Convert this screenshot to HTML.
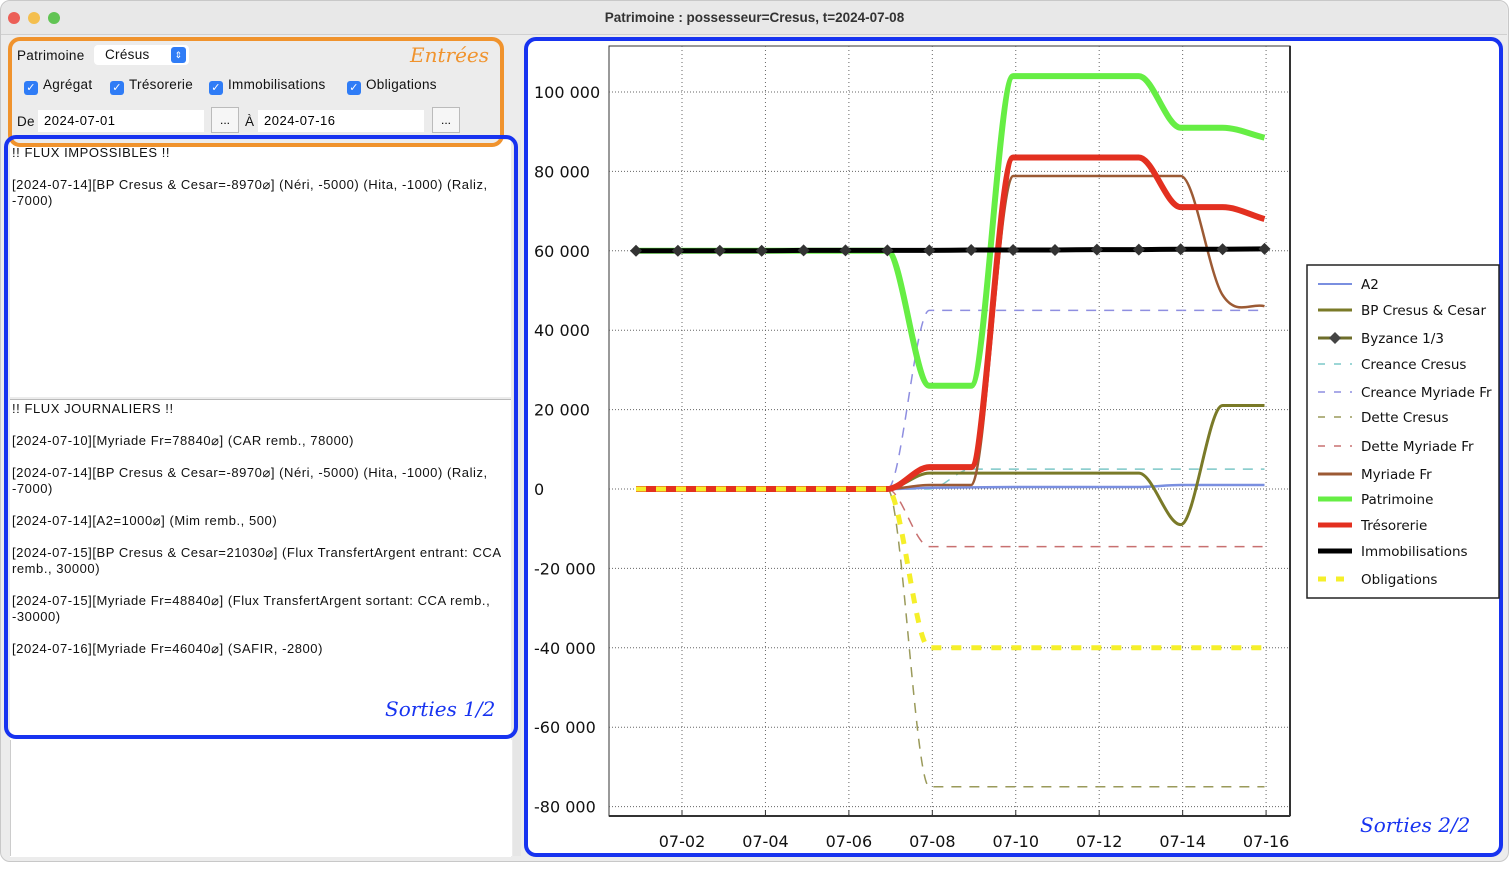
<!DOCTYPE html>
<html><head><meta charset="utf-8"><style>
body{margin:0;width:1509px;height:870px;background:#fff;font-family:"Liberation Sans",sans-serif;overflow:hidden;position:relative}
.abs{position:absolute}
.t{font-size:13.5px;color:#111;white-space:nowrap;letter-spacing:0.3px}
.cb{display:inline-block;width:14px;height:14px;background:#2f7cf6;border-radius:3px;color:#fff;font-size:11px;text-align:center;line-height:14px;vertical-align:-2px;margin-right:5px}
.field{background:#fff;height:22px;font-size:13px;line-height:22px;padding-left:6px;letter-spacing:0.5px}
.btn{background:#f6f6f6;border:1px solid #bbb;height:24px;width:26px;text-align:center;font-size:12px;line-height:24px}
.log{font-size:13px;line-height:16px;color:#111;letter-spacing:0.55px}
.hand{font-family:"DejaVu Serif",serif;font-style:italic}
</style></head><body>
<div class="abs" style="left:0;top:0;width:1507px;height:860px;background:#ececec;border:1px solid #c8c8c8;border-radius:10px"></div>
<div class="abs" style="left:1px;top:1px;width:1506px;height:33px;background:#e8e8e8;border-bottom:1px solid #d0d0d0;border-radius:10px 10px 0 0"></div>
<div class="abs" style="left:8px;top:12px;width:12px;height:12px;border-radius:6px;background:#ec5f57"></div>
<div class="abs" style="left:28px;top:12px;width:12px;height:12px;border-radius:6px;background:#f4bf4f"></div>
<div class="abs" style="left:48px;top:12px;width:12px;height:12px;border-radius:6px;background:#61c454"></div>
<div class="abs t" style="left:0;width:1509px;top:10px;text-align:center;font-weight:bold;color:#333;letter-spacing:0">Patrimoine : possesseur=Cresus, t=2024-07-08</div>

<div class="abs" style="left:10px;top:140px;width:501px;height:257px;background:#fff"></div>
<div class="abs" style="left:10px;top:399px;width:501px;height:457px;background:#fff;border-top:1px solid #bbb"></div>
<div class="abs" style="left:10px;top:740px;width:501px;height:116px;background:#fff;border-left:1px solid #ccc"></div>
<div class="abs" style="left:513px;top:140px;width:8px;height:716px;background:#e6e6e6"></div>

<div class="abs" style="left:8px;top:37px;width:488px;height:102px;border:4px solid #f0932d;border-radius:12px;background:#ececec"></div>
<div class="abs t" style="left:17px;top:48px">Patrimoine</div>
<div class="abs t" style="left:94px;top:45px;width:95px;height:20px;background:#fff;border-radius:4px;line-height:20px;padding-left:11px;box-sizing:border-box">Crésus<span style="position:absolute;right:3px;top:2px;width:15px;height:16px;background:#2f7cf6;border-radius:3px;color:#fff;font-size:9px;text-align:center;line-height:16px">⇕</span></div>
<div class="abs hand" style="left:410px;top:43px;font-size:20px;color:#f0932d">Entrées</div>
<div class="abs t" style="left:24px;top:77px"><span class="cb">✓</span>Agrégat</div>
<div class="abs t" style="left:110px;top:77px"><span class="cb">✓</span>Trésorerie</div>
<div class="abs t" style="left:209px;top:77px"><span class="cb">✓</span>Immobilisations</div>
<div class="abs t" style="left:347px;top:77px"><span class="cb">✓</span>Obligations</div>
<div class="abs t" style="left:17px;top:114px">De</div>
<div class="abs field" style="left:38px;top:110px;width:160px">2024-07-01</div>
<div class="abs btn" style="left:211px;top:107px">...</div>
<div class="abs t" style="left:245px;top:114px">À</div>
<div class="abs field" style="left:258px;top:110px;width:160px">2024-07-16</div>
<div class="abs btn" style="left:432px;top:107px">...</div>

<div class="abs" style="left:4px;top:135px;width:506px;height:596px;border:4px solid #1733f0;border-radius:12px"></div>
<div class="abs log" style="left:12px;top:145px;width:490px">!! FLUX IMPOSSIBLES !!<br><br>[2024-07-14][BP Cresus &amp; Cesar=-8970⌀] (Néri, -5000) (Hita, -1000) (Raliz, -7000)</div>
<div class="abs log" style="left:12px;top:401px;width:495px">!! FLUX JOURNALIERS !!<br><br>[2024-07-10][Myriade Fr=78840⌀] (CAR remb., 78000)<br><br>[2024-07-14][BP Cresus &amp; Cesar=-8970⌀] (Néri, -5000) (Hita, -1000) (Raliz, -7000)<br><br>[2024-07-14][A2=1000⌀] (Mim remb., 500)<br><br>[2024-07-15][BP Cresus &amp; Cesar=21030⌀] (Flux TransfertArgent entrant: CCA remb., 30000)<br><br>[2024-07-15][Myriade Fr=48840⌀] (Flux TransfertArgent sortant: CCA remb., -30000)<br><br>[2024-07-16][Myriade Fr=46040⌀] (SAFIR, -2800)</div>
<div class="abs hand" style="left:385px;top:697px;font-size:20px;color:#1733f0">Sorties 1/2</div>

<div class="abs" style="left:524px;top:37px;width:971px;height:812px;border:4px solid #1733f0;border-radius:12px;background:#fff"></div>
<svg class="abs" style="left:0;top:0" width="1509" height="870" id="chart"></svg>
<div class="abs hand" style="left:1360px;top:813px;font-size:20px;color:#1733f0">Sorties 2/2</div>

<script>
const days=[0,1,2,3,4,5,6,7,8,9,10,11,12,13,14,15];
const xTickDays=[1,3,5,7,9,11,13,15];
const xTickLabels=["07-02","07-04","07-06","07-08","07-10","07-12","07-14","07-16"];
const yTicks=[100000,80000,60000,40000,20000,0,-20000,-40000,-60000,-80000];
const yTickLabels=["100 000","80 000","60 000","40 000","20 000","0","-20 000","-40 000","-60 000","-80 000"];
const serA2=[0,0,0,0,0,0,0,300,400,500,500,500,500,1000,1000,1000];
const serBP=[0,0,0,0,0,0,0,4000,4000,4000,4000,4000,4000,-8970,21030,21030];
const serByz=[60000,60000,60000,60000,60100,60100,60100,60100,60200,60200,60200,60300,60300,60400,60400,60500];
const serCreC=[0,0,0,0,0,0,0,0,5000,5000,5000,5000,5000,5000,5000,5000];
const serCreM=[0,0,0,0,0,0,0,45000,45000,45000,45000,45000,45000,45000,45000,45000];
const serDetC=[0,0,0,0,0,0,0,-75000,-75000,-75000,-75000,-75000,-75000,-75000,-75000,-75000];
const serDetM=[0,0,0,0,0,0,0,-14500,-14500,-14500,-14500,-14500,-14500,-14500,-14500,-14500];
const serMyr=[0,0,0,0,0,0,0,1000,1000,78840,78840,78840,78840,78840,48840,46040];
const serPat=[60000,60000,60000,60000,60000,60000,60000,26000,26000,104000,104000,104000,104000,91000,91000,88500];
const serTre=[0,0,0,0,0,0,0,5500,5500,83500,83500,83500,83500,71000,71000,68000];
const serImm=[60000,60000,60000,60000,60100,60100,60100,60100,60200,60200,60200,60300,60300,60400,60400,60500];
const serObl=[0,0,0,0,0,0,0,-40000,-40000,-40000,-40000,-40000,-40000,-40000,-40000,-40000];

const NS="http://www.w3.org/2000/svg",svg=document.getElementById('chart');
const PL=609,PR=1290,PT=46,PB=816;
const x=d=>636+d*41.9;
const y=v=>489-v*(397/100000);
function mk(t,a,p){const e=document.createElementNS(NS,t);for(const k in a)e.setAttribute(k,a[k]);(p||svg).appendChild(e);return e;}
const bg=mk('rect',{x:PL,y:PT,width:PR-PL,height:PB-PT,fill:'#fff',stroke:'#333','stroke-width':1});

yTicks.forEach((v,i)=>{
 const g=mk('line',{x1:PL,x2:PR,y1:y(v),y2:y(v),stroke:'#666','stroke-dasharray':'1 2','stroke-width':1});
 
 const t=mk('text',{x:534,y:y(v)+6,'font-size':16,fill:'#111','font-family':'DejaVu Sans, sans-serif'});
 t.textContent=yTickLabels[i];
 
});
xTickDays.forEach((d,i)=>{
 const X=682+(d-1)*41.72;
 const g=mk('line',{x1:X,x2:X,y1:PT,y2:PB,stroke:'#666','stroke-dasharray':'1 3','stroke-width':1});
 
 const tk=mk('line',{x1:X,x2:X,y1:PB-6,y2:PB,stroke:'#333'});
 
 const t=mk('text',{x:X,y:847,'font-size':16,fill:'#111','text-anchor':'middle','font-family':'DejaVu Sans, sans-serif'});
 t.textContent=xTickLabels[i];
 
});
mk('line',{x1:PL,x2:PR,y1:PB,y2:PB,stroke:'#333','stroke-width':2});
mk('line',{x1:PR,x2:PR,y1:PT,y2:PB,stroke:'#333','stroke-width':2});
function pathD(vals){
 const n=vals.length,px=days.slice(0,n).map(x),py=vals.map(y);
 const dl=[],m=[];
 for(let i=0;i<n-1;i++)dl.push((py[i+1]-py[i])/(px[i+1]-px[i]));
 for(let i=0;i<n;i++){if(i==0)m.push(dl[0]);else if(i==n-1)m.push(dl[n-2]);else m.push(dl[i-1]*dl[i]<=0?0:(dl[i-1]+dl[i])/2);}
 for(let i=0;i<n-1;i++){if(dl[i]==0){m[i]=0;m[i+1]=0;}}
 let d='M'+px[0]+','+py[0];
 for(let i=0;i<n-1;i++){const h=(px[i+1]-px[i])/3;d+=' C'+(px[i]+h)+','+(py[i]+m[i]*h)+' '+(px[i+1]-h)+','+(py[i+1]-m[i+1]*h)+' '+px[i+1]+','+py[i+1];}
 return d;
}
const series=[
 ['series-creance-myriade',serCreM,'#8e8ee0',1.5,'10 8'],
 ['series-creance-cresus',serCreC,'#7cc8c8',1.5,'10 8'],
 ['series-dette-cresus',serDetC,'#9a9a5a',1.5,'10 8'],
 ['series-dette-myriade',serDetM,'#c87070',1.5,'10 8'],
 ['series-a2',serA2,'#7a8fe0',2.5,''],
 ['series-bp-cresus',serBP,'#7a7a28',3,''],
 ['series-myriade-fr',serMyr,'#9c5a34',2.5,''],
 ['series-patrimoine',serPat,'#66ee44',6,''],
 ['series-tresorerie',serTre,'#e33020',6,''],
 ['series-obligations',serObl,'#f5ef2a',5,'10 10'],
 ['series-byzance',serByz,'#6d6d2a',2,''],
 ['series-immobilisations',serImm,'#000',5,'']
];
series.forEach(s=>{
 const p=mk('path',{d:pathD(s[1]),fill:'none',stroke:s[2],'stroke-width':s[3],'stroke-dasharray':s[4]});
 
});
const redDash=mk('path',{d:pathD(serTre.slice(0,7)),fill:'none',stroke:'#e33020','stroke-width':5,'stroke-dasharray':'10 10','stroke-dashoffset':10});

days.forEach(d=>{
 const X=x(d),Y=y(serByz[d]);
 const m=mk('polygon',{points:(X-6)+','+Y+' '+X+','+(Y-6)+' '+(X+6)+','+Y+' '+X+','+(Y+6),fill:'#333'});
 
});
const lg=mk('rect',{x:1307,y:265,width:192,height:333,fill:'#fff',stroke:'#222','stroke-width':1.5});

const legNames=["A2","BP Cresus & Cesar","Byzance 1/3","Creance Cresus","Creance Myriade Fr","Dette Cresus","Dette Myriade Fr","Myriade Fr","Patrimoine","Trésorerie","Immobilisations","Obligations"];
const legY=[284,310,338,364,392,417,446,474,499,525,551,579];
const legSt=[['#7a8fe0',2,''],['#7a7a28',3,''],['#6d6d2a',3,''],['#7cc8c8',1.5,'7 9'],['#8e8ee0',1.5,'7 9'],['#9a9a5a',1.5,'7 9'],['#c87070',1.5,'7 9'],['#9c5a34',3,''],['#66ee44',5,''],['#e33020',5,''],['#000',5,''],['#f5ef2a',5,'8 10']];
legNames.forEach((n,i)=>{
 const g=mk('g',{});
 
 mk('line',{x1:1318,x2:1352,y1:legY[i],y2:legY[i],stroke:legSt[i][0],'stroke-width':legSt[i][1],'stroke-dasharray':legSt[i][2]},g);
 if(i==2)mk('polygon',{points:'1329,'+legY[i]+' 1335,'+(legY[i]-6)+' 1341,'+legY[i]+' 1335,'+(legY[i]+6),fill:'#444'},g);
 const t=mk('text',{x:1361,y:legY[i]+5,'font-size':13.5,fill:'#111','font-family':'DejaVu Sans, sans-serif'},g);
 t.textContent=n;
});
</script>
</body></html>
